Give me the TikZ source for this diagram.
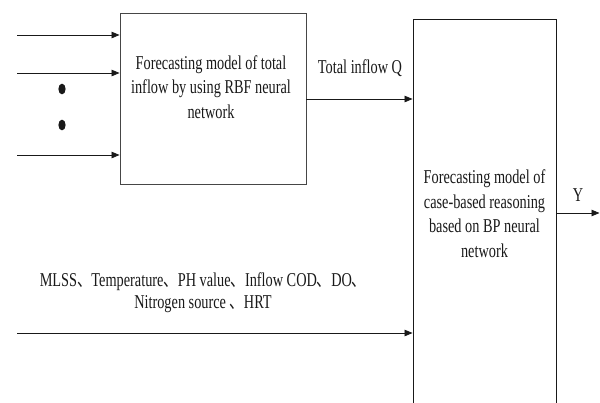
\documentclass[tikz,border=0pt]{standalone}
\usepackage{fontspec}
\setmainfont[FakeStretch=0.73]{Liberation Serif}
\newfontfamily\cjk[FakeStretch=0.73]{Noto Sans CJK SC}
\usetikzlibrary{arrows.meta}
\definecolor{boxgray}{RGB}{70,70,70}
\definecolor{inkgray}{RGB}{25,25,25}
\newcommand{\dun}{{\cjk 、}}
\tikzset{
  modelbox/.style={draw=boxgray, line width=0.9pt, rectangle, inner sep=0pt},
  txt/.style={inkgray, align=center, font={\fontsize{19.6}{24.5}\selectfont}},
  arr/.style={draw=inkgray, line width=0.8pt, -{Triangle[length=8pt,width=6.5pt]}}
}
\begin{document}
\begin{tikzpicture}[x=1pt,y=-1pt]
    \useasboundingbox (0,0) rectangle (600,402);
    \clip (0,0) rectangle (600,402);
    % RBF model
    \node[modelbox, minimum width=186pt, minimum height=171pt] (rbf) at (213,98.5) {};
    \node[txt] (rbftext) at (211,87) {Forecasting model of total\\inflow by using RBF neural\\network};
    % CBR model (runs past the lower edge)
    \node[modelbox, txt, minimum width=143pt, minimum height=389pt] (cbr) at (484.5,213.5)
        {Forecasting model of\\case-based reasoning\\based on BP neural\\network};
    % inputs of the RBF model
    \coordinate (in1) at (17,35);
    \coordinate (in2) at (17,73);
    \coordinate (in3) at (17,155);
    \draw[arr] (in1) -- (in1 -| rbf.west);
    \draw[arr] (in2) -- (in2 -| rbf.west);
    \draw[arr] (in3) -- (in3 -| rbf.west);
    \fill[inkgray] (62,89) ellipse (3.6 and 5.4);
    \fill[inkgray] (62,125) ellipse (3.6 and 5.4);
    % total inflow
    \draw[arr] (rbf.east |- 0,99) -- (cbr.west |- 0,99);
    \node[txt] (qlabel) at (360,68) {Total inflow Q};
    % other variables
    \coordinate (var) at (17,333);
    \draw[arr] (var) -- (var -| cbr.west);
    \node[txt, font={\fontsize{19.6}{21.5}\selectfont}] (varlabel) at (203,292.5)
        {MLSS\dun Temperature\dun PH value\dun Inflow COD\dun DO\dun\\Nitrogen source \dun HRT};
    % output
    \coordinate (yout) at (599.5,213);
    \draw[arr] (cbr.east |- yout) -- (yout);
    \node[txt] (ylabel) at (578,195) {Y};
\end{tikzpicture}
\end{document}
